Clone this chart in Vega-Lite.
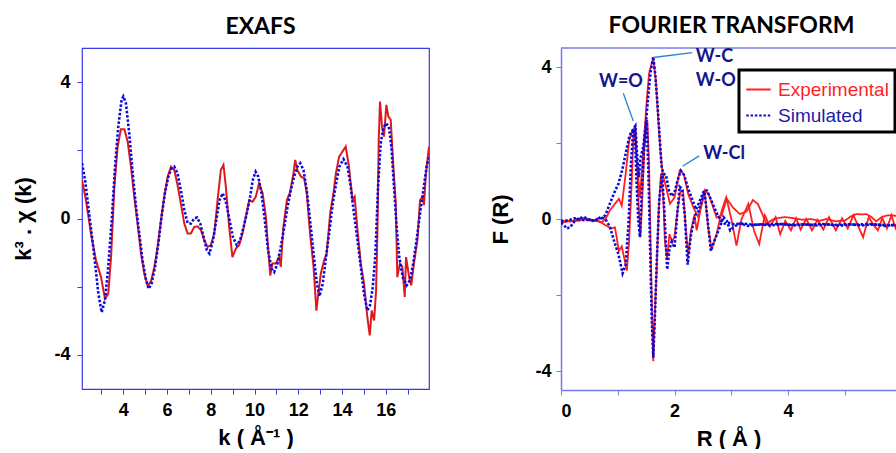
{
  "$schema": "https://vega.github.io/schema/vega-lite/v6.json",
  "background": "white",
  "padding": {"left": 12, "top": 15, "right": 0, "bottom": 0},
  "bounds": "flush",
  "spacing": 132,
  "config": {
    "view": {"stroke": null},
    "font": "Liberation Sans",
    "axis": {"grid": false, "labelFont": "Liberation Sans", "labelFontSize": 18, "labelFontWeight": "bold", "labelColor": "black", "titleFont": "Liberation Sans", "titleFontSize": 22, "titleFontWeight": "bold", "titleColor": "black"}
  },
  "resolve": {"scale": {"color": "independent", "strokeDash": "independent"}},
  "datasets": {
    "exafs": [
      {"k":2.112,"v":1.13,"s":"Experimental"},{"k":2.29,"v":0.54,"s":"Experimental"},{"k":2.52,"v":-0.44,"s":"Experimental"},{"k":2.75,"v":-1.23,"s":"Experimental"},{"k":2.98,"v":-1.72,"s":"Experimental"},{"k":3.16,"v":-2.35,"s":"Experimental"},{"k":3.31,"v":-2.21,"s":"Experimental"},{"k":3.44,"v":-1.13,"s":"Experimental"},{"k":3.59,"v":0.93,"s":"Experimental"},{"k":3.74,"v":2.11,"s":"Experimental"},{"k":3.89,"v":2.62,"s":"Experimental"},{"k":4.05,"v":2.62,"s":"Experimental"},{"k":4.20,"v":2.25,"s":"Experimental"},{"k":4.35,"v":1.52,"s":"Experimental"},{"k":4.50,"v":0.64,"s":"Experimental"},{"k":4.65,"v":-0.15,"s":"Experimental"},{"k":4.81,"v":-1.03,"s":"Experimental"},{"k":4.96,"v":-1.62,"s":"Experimental"},{"k":5.11,"v":-1.96,"s":"Experimental"},{"k":5.26,"v":-1.86,"s":"Experimental"},{"k":5.42,"v":-1.42,"s":"Experimental"},{"k":5.57,"v":-0.83,"s":"Experimental"},{"k":5.72,"v":-0.05,"s":"Experimental"},{"k":5.87,"v":0.64,"s":"Experimental"},{"k":6.03,"v":1.23,"s":"Experimental"},{"k":6.18,"v":1.52,"s":"Experimental"},{"k":6.33,"v":1.42,"s":"Experimental"},{"k":6.48,"v":0.98,"s":"Experimental"},{"k":6.63,"v":0.44,"s":"Experimental"},{"k":6.79,"v":-0.15,"s":"Experimental"},{"k":6.94,"v":-0.44,"s":"Experimental"},{"k":7.09,"v":-0.44,"s":"Experimental"},{"k":7.24,"v":-0.25,"s":"Experimental"},{"k":7.40,"v":-0.23,"s":"Experimental"},{"k":7.55,"v":-0.34,"s":"Experimental"},{"k":7.70,"v":-0.64,"s":"Experimental"},{"k":7.85,"v":-0.83,"s":"Experimental"},{"k":8.00,"v":-0.78,"s":"Experimental"},{"k":8.16,"v":-0.44,"s":"Experimental"},{"k":8.31,"v":0.54,"s":"Experimental"},{"k":8.46,"v":1.42,"s":"Experimental"},{"k":8.58,"v":1.57,"s":"Experimental"},{"k":8.69,"v":0.93,"s":"Experimental"},{"k":8.84,"v":-0.25,"s":"Experimental"},{"k":8.99,"v":-1.13,"s":"Experimental"},{"k":9.15,"v":-0.88,"s":"Experimental"},{"k":9.30,"v":-0.78,"s":"Experimental"},{"k":9.45,"v":-0.44,"s":"Experimental"},{"k":9.60,"v":0.05,"s":"Experimental"},{"k":9.76,"v":0.54,"s":"Experimental"},{"k":9.91,"v":0.49,"s":"Experimental"},{"k":10.06,"v":0.64,"s":"Experimental"},{"k":10.21,"v":1.03,"s":"Experimental"},{"k":10.37,"v":0.74,"s":"Experimental"},{"k":10.52,"v":0.05,"s":"Experimental"},{"k":10.64,"v":-1.03,"s":"Experimental"},{"k":10.72,"v":-1.67,"s":"Experimental"},{"k":10.82,"v":-1.32,"s":"Experimental"},{"k":10.97,"v":-1.32,"s":"Experimental"},{"k":11.13,"v":-1.13,"s":"Experimental"},{"k":11.20,"v":-1.42,"s":"Experimental"},{"k":11.32,"v":-0.25,"s":"Experimental"},{"k":11.48,"v":0.54,"s":"Experimental"},{"k":11.63,"v":0.78,"s":"Experimental"},{"k":11.78,"v":1.32,"s":"Experimental"},{"k":11.86,"v":1.72,"s":"Experimental"},{"k":11.96,"v":1.42,"s":"Experimental"},{"k":12.12,"v":1.23,"s":"Experimental"},{"k":12.27,"v":1.18,"s":"Experimental"},{"k":12.39,"v":0.74,"s":"Experimental"},{"k":12.54,"v":-0.44,"s":"Experimental"},{"k":12.70,"v":-1.42,"s":"Experimental"},{"k":12.83,"v":-2.70,"s":"Experimental"},{"k":12.91,"v":-2.25,"s":"Experimental"},{"k":13.03,"v":-1.62,"s":"Experimental"},{"k":13.18,"v":-1.23,"s":"Experimental"},{"k":13.30,"v":-1.03,"s":"Experimental"},{"k":13.46,"v":0.15,"s":"Experimental"},{"k":13.61,"v":0.74,"s":"Experimental"},{"k":13.72,"v":1.32,"s":"Experimental"},{"k":13.87,"v":1.81,"s":"Experimental"},{"k":14.02,"v":1.96,"s":"Experimental"},{"k":14.17,"v":2.11,"s":"Experimental"},{"k":14.32,"v":1.52,"s":"Experimental"},{"k":14.48,"v":0.54,"s":"Experimental"},{"k":14.58,"v":0.64,"s":"Experimental"},{"k":14.71,"v":-0.34,"s":"Experimental"},{"k":14.86,"v":-1.32,"s":"Experimental"},{"k":15.01,"v":-1.91,"s":"Experimental"},{"k":15.16,"v":-2.89,"s":"Experimental"},{"k":15.27,"v":-3.43,"s":"Experimental"},{"k":15.36,"v":-2.70,"s":"Experimental"},{"k":15.47,"v":-2.99,"s":"Experimental"},{"k":15.56,"v":-2.11,"s":"Experimental"},{"k":15.62,"v":-0.44,"s":"Experimental"},{"k":15.68,"v":2.30,"s":"Experimental"},{"k":15.74,"v":3.43,"s":"Experimental"},{"k":15.83,"v":2.70,"s":"Experimental"},{"k":15.92,"v":2.40,"s":"Experimental"},{"k":16.03,"v":3.33,"s":"Experimental"},{"k":16.12,"v":2.99,"s":"Experimental"},{"k":16.23,"v":2.89,"s":"Experimental"},{"k":16.35,"v":1.52,"s":"Experimental"},{"k":16.46,"v":0.44,"s":"Experimental"},{"k":16.53,"v":-1.72,"s":"Experimental"},{"k":16.65,"v":-1.32,"s":"Experimental"},{"k":16.76,"v":-1.42,"s":"Experimental"},{"k":16.87,"v":-2.30,"s":"Experimental"},{"k":16.93,"v":-1.13,"s":"Experimental"},{"k":17.07,"v":-1.72,"s":"Experimental"},{"k":17.17,"v":-1.96,"s":"Experimental"},{"k":17.29,"v":-1.32,"s":"Experimental"},{"k":17.45,"v":-0.64,"s":"Experimental"},{"k":17.57,"v":0.54,"s":"Experimental"},{"k":17.69,"v":0.64,"s":"Experimental"},{"k":17.75,"v":0.39,"s":"Experimental"},{"k":17.84,"v":1.32,"s":"Experimental"},{"k":17.98,"v":2.11,"s":"Experimental"},
      {"k":2.112,"v":1.62,"s":"Simulated"},{"k":2.25,"v":1.13,"s":"Simulated"},{"k":2.40,"v":0.34,"s":"Simulated"},{"k":2.55,"v":-0.44,"s":"Simulated"},{"k":2.71,"v":-1.32,"s":"Simulated"},{"k":2.86,"v":-2.21,"s":"Simulated"},{"k":3.01,"v":-2.75,"s":"Simulated"},{"k":3.16,"v":-2.40,"s":"Simulated"},{"k":3.31,"v":-1.42,"s":"Simulated"},{"k":3.47,"v":-0.05,"s":"Simulated"},{"k":3.62,"v":1.52,"s":"Simulated"},{"k":3.77,"v":2.70,"s":"Simulated"},{"k":3.92,"v":3.48,"s":"Simulated"},{"k":4.00,"v":3.58,"s":"Simulated"},{"k":4.12,"v":3.38,"s":"Simulated"},{"k":4.27,"v":2.50,"s":"Simulated"},{"k":4.43,"v":1.32,"s":"Simulated"},{"k":4.58,"v":0.34,"s":"Simulated"},{"k":4.73,"v":-0.44,"s":"Simulated"},{"k":4.88,"v":-1.23,"s":"Simulated"},{"k":5.04,"v":-1.81,"s":"Simulated"},{"k":5.16,"v":-2.06,"s":"Simulated"},{"k":5.29,"v":-1.91,"s":"Simulated"},{"k":5.45,"v":-1.42,"s":"Simulated"},{"k":5.60,"v":-0.74,"s":"Simulated"},{"k":5.75,"v":0.05,"s":"Simulated"},{"k":5.90,"v":0.74,"s":"Simulated"},{"k":6.06,"v":1.23,"s":"Simulated"},{"k":6.21,"v":1.47,"s":"Simulated"},{"k":6.33,"v":1.52,"s":"Simulated"},{"k":6.48,"v":1.32,"s":"Simulated"},{"k":6.63,"v":0.83,"s":"Simulated"},{"k":6.79,"v":0.25,"s":"Simulated"},{"k":6.94,"v":-0.13,"s":"Simulated"},{"k":7.09,"v":-0.15,"s":"Simulated"},{"k":7.24,"v":0.0,"s":"Simulated"},{"k":7.37,"v":0.03,"s":"Simulated"},{"k":7.52,"v":-0.15,"s":"Simulated"},{"k":7.67,"v":-0.54,"s":"Simulated"},{"k":7.82,"v":-0.93,"s":"Simulated"},{"k":7.94,"v":-1.03,"s":"Simulated"},{"k":8.10,"v":-0.64,"s":"Simulated"},{"k":8.25,"v":-0.05,"s":"Simulated"},{"k":8.40,"v":0.54,"s":"Simulated"},{"k":8.55,"v":0.74,"s":"Simulated"},{"k":8.71,"v":0.44,"s":"Simulated"},{"k":8.86,"v":-0.05,"s":"Simulated"},{"k":9.01,"v":-0.54,"s":"Simulated"},{"k":9.19,"v":-0.78,"s":"Simulated"},{"k":9.34,"v":-0.64,"s":"Simulated"},{"k":9.50,"v":-0.25,"s":"Simulated"},{"k":9.65,"v":0.15,"s":"Simulated"},{"k":9.80,"v":0.64,"s":"Simulated"},{"k":9.92,"v":1.13,"s":"Simulated"},{"k":10.05,"v":1.37,"s":"Simulated"},{"k":10.17,"v":1.23,"s":"Simulated"},{"k":10.32,"v":0.74,"s":"Simulated"},{"k":10.47,"v":-0.05,"s":"Simulated"},{"k":10.62,"v":-0.93,"s":"Simulated"},{"k":10.78,"v":-1.47,"s":"Simulated"},{"k":10.90,"v":-1.57,"s":"Simulated"},{"k":11.05,"v":-1.32,"s":"Simulated"},{"k":11.20,"v":-0.83,"s":"Simulated"},{"k":11.36,"v":-0.25,"s":"Simulated"},{"k":11.51,"v":0.34,"s":"Simulated"},{"k":11.66,"v":0.83,"s":"Simulated"},{"k":11.81,"v":1.23,"s":"Simulated"},{"k":11.96,"v":1.52,"s":"Simulated"},{"k":12.09,"v":1.62,"s":"Simulated"},{"k":12.24,"v":1.42,"s":"Simulated"},{"k":12.39,"v":0.83,"s":"Simulated"},{"k":12.54,"v":-0.05,"s":"Simulated"},{"k":12.70,"v":-1.03,"s":"Simulated"},{"k":12.85,"v":-1.91,"s":"Simulated"},{"k":12.97,"v":-2.28,"s":"Simulated"},{"k":13.12,"v":-1.91,"s":"Simulated"},{"k":13.27,"v":-1.13,"s":"Simulated"},{"k":13.43,"v":-0.34,"s":"Simulated"},{"k":13.58,"v":0.44,"s":"Simulated"},{"k":13.73,"v":1.03,"s":"Simulated"},{"k":13.88,"v":1.52,"s":"Simulated"},{"k":14.07,"v":1.74,"s":"Simulated"},{"k":14.25,"v":1.52,"s":"Simulated"},{"k":14.40,"v":0.93,"s":"Simulated"},{"k":14.55,"v":0.15,"s":"Simulated"},{"k":14.71,"v":-0.64,"s":"Simulated"},{"k":14.86,"v":-1.42,"s":"Simulated"},{"k":15.01,"v":-2.21,"s":"Simulated"},{"k":15.16,"v":-2.70,"s":"Simulated"},{"k":15.28,"v":-2.55,"s":"Simulated"},{"k":15.41,"v":-2.01,"s":"Simulated"},{"k":15.53,"v":-1.03,"s":"Simulated"},{"k":15.65,"v":0.93,"s":"Simulated"},{"k":15.77,"v":2.21,"s":"Simulated"},{"k":15.89,"v":2.65,"s":"Simulated"},{"k":16.01,"v":2.79,"s":"Simulated"},{"k":16.14,"v":2.70,"s":"Simulated"},{"k":16.26,"v":2.11,"s":"Simulated"},{"k":16.38,"v":0.93,"s":"Simulated"},{"k":16.50,"v":-0.25,"s":"Simulated"},{"k":16.62,"v":-1.13,"s":"Simulated"},{"k":16.78,"v":-1.72,"s":"Simulated"},{"k":16.96,"v":-1.96,"s":"Simulated"},{"k":17.11,"v":-1.81,"s":"Simulated"},{"k":17.26,"v":-1.32,"s":"Simulated"},{"k":17.41,"v":-0.64,"s":"Simulated"},{"k":17.57,"v":0.15,"s":"Simulated"},{"k":17.72,"v":0.83,"s":"Simulated"},{"k":17.87,"v":1.52,"s":"Simulated"},{"k":17.98,"v":1.81,"s":"Simulated"}
    ],
    "ft": [
      {"r":0.00,"f":-0.05,"s":"Experimental","p":"a"},{"r":0.08,"f":-0.08,"s":"Experimental","p":"a"},{"r":0.16,"f":-0.04,"s":"Experimental","p":"a"},{"r":0.24,"f":-0.06,"s":"Experimental","p":"a"},{"r":0.32,"f":-0.02,"s":"Experimental","p":"a"},{"r":0.40,"f":0.03,"s":"Experimental","p":"a"},{"r":0.48,"f":-0.01,"s":"Experimental","p":"a"},{"r":0.56,"f":-0.03,"s":"Experimental","p":"a"},{"r":0.64,"f":-0.04,"s":"Experimental","p":"a"},{"r":0.72,"f":-0.09,"s":"Experimental","p":"a"},{"r":0.79,"f":0.02,"s":"Experimental","p":"a"},{"r":0.86,"f":0.22,"s":"Experimental","p":"a"},{"r":0.95,"f":0.40,"s":"Experimental","p":"a"},{"r":1.02,"f":0.53,"s":"Experimental","p":"a"},{"r":1.07,"f":0.35,"s":"Experimental","p":"a"},{"r":1.14,"f":1.20,"s":"Experimental","p":"a"},{"r":1.20,"f":2.06,"s":"Experimental","p":"a"},{"r":1.25,"f":2.30,"s":"Experimental","p":"a"},{"r":1.29,"f":2.38,"s":"Experimental","p":"a"},{"r":1.33,"f":1.63,"s":"Experimental","p":"a"},{"r":1.39,"f":0.57,"s":"Experimental","p":"a"},{"r":1.45,"f":1.80,"s":"Experimental","p":"a"},{"r":1.51,"f":3.12,"s":"Experimental","p":"a"},{"r":1.55,"f":3.82,"s":"Experimental","p":"a"},{"r":1.58,"f":4.00,"s":"Experimental","p":"a"},{"r":1.625,"f":4.22,"s":"Experimental","p":"a"},{"r":1.67,"f":3.65,"s":"Experimental","p":"a"},{"r":1.71,"f":2.68,"s":"Experimental","p":"a"},{"r":1.75,"f":1.80,"s":"Experimental","p":"a"},{"r":1.79,"f":1.19,"s":"Experimental","p":"a"},{"r":1.85,"f":0.84,"s":"Experimental","p":"a"},{"r":1.92,"f":0.40,"s":"Experimental","p":"a"},{"r":2.00,"f":0.57,"s":"Experimental","p":"a"},{"r":2.09,"f":1.27,"s":"Experimental","p":"a"},{"r":2.16,"f":1.19,"s":"Experimental","p":"a"},{"r":2.24,"f":0.66,"s":"Experimental","p":"a"},{"r":2.33,"f":0.31,"s":"Experimental","p":"a"},{"r":2.42,"f":0.04,"s":"Experimental","p":"a"},{"r":2.53,"f":0.76,"s":"Experimental","p":"a"},{"r":2.60,"f":0.66,"s":"Experimental","p":"a"},{"r":2.74,"f":0.04,"s":"Experimental","p":"a"},{"r":2.83,"f":0.10,"s":"Experimental","p":"a"},{"r":2.92,"f":0.53,"s":"Experimental","p":"a"},{"r":3.03,"f":0.30,"s":"Experimental","p":"a"},{"r":3.15,"f":0.13,"s":"Experimental","p":"a"},{"r":3.27,"f":0.20,"s":"Experimental","p":"a"},{"r":3.38,"f":0.50,"s":"Experimental","p":"a"},{"r":3.47,"f":0.39,"s":"Experimental","p":"a"},{"r":3.62,"f":-0.13,"s":"Experimental","p":"a"},{"r":3.72,"f":-0.02,"s":"Experimental","p":"a"},{"r":3.80,"f":0.02,"s":"Experimental","p":"a"},{"r":3.95,"f":0.05,"s":"Experimental","p":"a"},{"r":4.10,"f":0.02,"s":"Experimental","p":"a"},{"r":4.26,"f":-0.02,"s":"Experimental","p":"a"},{"r":4.40,"f":0.00,"s":"Experimental","p":"a"},{"r":4.55,"f":-0.05,"s":"Experimental","p":"a"},{"r":4.68,"f":0.00,"s":"Experimental","p":"a"},{"r":4.84,"f":-0.06,"s":"Experimental","p":"a"},{"r":5.00,"f":-0.04,"s":"Experimental","p":"a"},{"r":5.12,"f":0.08,"s":"Experimental","p":"a"},{"r":5.20,"f":0.13,"s":"Experimental","p":"a"},{"r":5.30,"f":0.12,"s":"Experimental","p":"a"},{"r":5.38,"f":0.13,"s":"Experimental","p":"a"},{"r":5.47,"f":0.05,"s":"Experimental","p":"a"},{"r":5.55,"f":-0.06,"s":"Experimental","p":"a"},{"r":5.65,"f":0.05,"s":"Experimental","p":"a"},{"r":5.73,"f":0.09,"s":"Experimental","p":"a"},{"r":5.82,"f":0.10,"s":"Experimental","p":"a"},{"r":5.90,"f":0.08,"s":"Experimental","p":"a"},
      {"r":0.00,"f":-0.10,"s":"Experimental","p":"b"},{"r":0.08,"f":-0.04,"s":"Experimental","p":"b"},{"r":0.16,"f":-0.07,"s":"Experimental","p":"b"},{"r":0.24,"f":-0.03,"s":"Experimental","p":"b"},{"r":0.32,"f":-0.05,"s":"Experimental","p":"b"},{"r":0.40,"f":0.00,"s":"Experimental","p":"b"},{"r":0.48,"f":-0.04,"s":"Experimental","p":"b"},{"r":0.56,"f":-0.02,"s":"Experimental","p":"b"},{"r":0.64,"f":-0.06,"s":"Experimental","p":"b"},{"r":0.72,"f":-0.10,"s":"Experimental","p":"b"},{"r":0.80,"f":-0.18,"s":"Experimental","p":"b"},{"r":0.88,"f":-0.25,"s":"Experimental","p":"b"},{"r":0.95,"f":-0.22,"s":"Experimental","p":"b"},{"r":1.02,"f":-0.84,"s":"Experimental","p":"b"},{"r":1.07,"f":-0.72,"s":"Experimental","p":"b"},{"r":1.16,"f":-1.36,"s":"Experimental","p":"b"},{"r":1.20,"f":-0.57,"s":"Experimental","p":"b"},{"r":1.24,"f":0.80,"s":"Experimental","p":"b"},{"r":1.28,"f":2.30,"s":"Experimental","p":"b"},{"r":1.31,"f":2.45,"s":"Experimental","p":"b"},{"r":1.34,"f":1.40,"s":"Experimental","p":"b"},{"r":1.37,"f":0.30,"s":"Experimental","p":"b"},{"r":1.40,"f":-0.45,"s":"Experimental","p":"b"},{"r":1.43,"f":0.50,"s":"Experimental","p":"b"},{"r":1.47,"f":1.90,"s":"Experimental","p":"b"},{"r":1.52,"f":2.60,"s":"Experimental","p":"b"},{"r":1.55,"f":1.50,"s":"Experimental","p":"b"},{"r":1.58,"f":-0.80,"s":"Experimental","p":"b"},{"r":1.61,"f":-2.90,"s":"Experimental","p":"b"},{"r":1.625,"f":-3.74,"s":"Experimental","p":"b"},{"r":1.65,"f":-2.60,"s":"Experimental","p":"b"},{"r":1.68,"f":-1.50,"s":"Experimental","p":"b"},{"r":1.72,"f":0.20,"s":"Experimental","p":"b"},{"r":1.76,"f":1.19,"s":"Experimental","p":"b"},{"r":1.80,"f":0.60,"s":"Experimental","p":"b"},{"r":1.83,"f":-0.60,"s":"Experimental","p":"b"},{"r":1.87,"f":-1.05,"s":"Experimental","p":"b"},{"r":1.91,"f":-0.40,"s":"Experimental","p":"b"},{"r":1.96,"f":-0.60,"s":"Experimental","p":"b"},{"r":2.00,"f":-0.45,"s":"Experimental","p":"b"},{"r":2.05,"f":0.20,"s":"Experimental","p":"b"},{"r":2.10,"f":0.70,"s":"Experimental","p":"b"},{"r":2.15,"f":0.75,"s":"Experimental","p":"b"},{"r":2.20,"f":-0.30,"s":"Experimental","p":"b"},{"r":2.24,"f":-0.95,"s":"Experimental","p":"b"},{"r":2.29,"f":-0.30,"s":"Experimental","p":"b"},{"r":2.35,"f":0.10,"s":"Experimental","p":"b"},{"r":2.39,"f":-0.30,"s":"Experimental","p":"b"},{"r":2.45,"f":0.20,"s":"Experimental","p":"b"},{"r":2.53,"f":0.70,"s":"Experimental","p":"b"},{"r":2.59,"f":-0.20,"s":"Experimental","p":"b"},{"r":2.65,"f":-0.79,"s":"Experimental","p":"b"},{"r":2.74,"f":-0.40,"s":"Experimental","p":"b"},{"r":2.83,"f":0.22,"s":"Experimental","p":"b"},{"r":2.91,"f":0.57,"s":"Experimental","p":"b"},{"r":3.00,"f":0.00,"s":"Experimental","p":"b"},{"r":3.09,"f":-0.70,"s":"Experimental","p":"b"},{"r":3.18,"f":0.00,"s":"Experimental","p":"b"},{"r":3.30,"f":0.40,"s":"Experimental","p":"b"},{"r":3.40,"f":-0.31,"s":"Experimental","p":"b"},{"r":3.49,"f":-0.66,"s":"Experimental","p":"b"},{"r":3.59,"f":0.10,"s":"Experimental","p":"b"},{"r":3.68,"f":-0.20,"s":"Experimental","p":"b"},{"r":3.78,"f":0.05,"s":"Experimental","p":"b"},{"r":3.86,"f":-0.40,"s":"Experimental","p":"b"},{"r":3.95,"f":-0.05,"s":"Experimental","p":"b"},{"r":4.05,"f":-0.30,"s":"Experimental","p":"b"},{"r":4.14,"f":0.02,"s":"Experimental","p":"b"},{"r":4.22,"f":-0.28,"s":"Experimental","p":"b"},{"r":4.32,"f":0.00,"s":"Experimental","p":"b"},{"r":4.42,"f":-0.30,"s":"Experimental","p":"b"},{"r":4.52,"f":-0.02,"s":"Experimental","p":"b"},{"r":4.62,"f":-0.28,"s":"Experimental","p":"b"},{"r":4.72,"f":0.05,"s":"Experimental","p":"b"},{"r":4.84,"f":-0.30,"s":"Experimental","p":"b"},{"r":4.95,"f":0.02,"s":"Experimental","p":"b"},{"r":5.05,"f":-0.25,"s":"Experimental","p":"b"},{"r":5.15,"f":0.10,"s":"Experimental","p":"b"},{"r":5.32,"f":-0.48,"s":"Experimental","p":"b"},{"r":5.42,"f":0.05,"s":"Experimental","p":"b"},{"r":5.50,"f":-0.15,"s":"Experimental","p":"b"},{"r":5.58,"f":-0.30,"s":"Experimental","p":"b"},{"r":5.66,"f":0.02,"s":"Experimental","p":"b"},{"r":5.74,"f":-0.25,"s":"Experimental","p":"b"},{"r":5.82,"f":0.10,"s":"Experimental","p":"b"},{"r":5.90,"f":-0.28,"s":"Experimental","p":"b"},
      {"r":0.00,"f":-0.10,"s":"Simulated","p":"a"},{"r":0.05,"f":-0.15,"s":"Simulated","p":"a"},{"r":0.10,"f":-0.25,"s":"Simulated","p":"a"},{"r":0.16,"f":-0.22,"s":"Simulated","p":"a"},{"r":0.24,"f":-0.05,"s":"Simulated","p":"a"},{"r":0.32,"f":0.02,"s":"Simulated","p":"a"},{"r":0.40,"f":0.05,"s":"Simulated","p":"a"},{"r":0.48,"f":0.00,"s":"Simulated","p":"a"},{"r":0.56,"f":-0.05,"s":"Simulated","p":"a"},{"r":0.64,"f":0.00,"s":"Simulated","p":"a"},{"r":0.72,"f":0.02,"s":"Simulated","p":"a"},{"r":0.78,"f":0.10,"s":"Simulated","p":"a"},{"r":0.86,"f":0.40,"s":"Simulated","p":"a"},{"r":0.94,"f":0.70,"s":"Simulated","p":"a"},{"r":1.01,"f":0.92,"s":"Simulated","p":"a"},{"r":1.08,"f":1.30,"s":"Simulated","p":"a"},{"r":1.15,"f":1.80,"s":"Simulated","p":"a"},{"r":1.21,"f":2.20,"s":"Simulated","p":"a"},{"r":1.27,"f":2.36,"s":"Simulated","p":"a"},{"r":1.31,"f":2.45,"s":"Simulated","p":"a"},{"r":1.34,"f":1.70,"s":"Simulated","p":"a"},{"r":1.37,"f":1.10,"s":"Simulated","p":"a"},{"r":1.40,"f":1.60,"s":"Simulated","p":"a"},{"r":1.45,"f":1.90,"s":"Simulated","p":"a"},{"r":1.50,"f":2.60,"s":"Simulated","p":"a"},{"r":1.54,"f":3.30,"s":"Simulated","p":"a"},{"r":1.58,"f":3.90,"s":"Simulated","p":"a"},{"r":1.625,"f":4.27,"s":"Simulated","p":"a"},{"r":1.66,"f":3.80,"s":"Simulated","p":"a"},{"r":1.70,"f":3.00,"s":"Simulated","p":"a"},{"r":1.74,"f":2.10,"s":"Simulated","p":"a"},{"r":1.77,"f":1.40,"s":"Simulated","p":"a"},{"r":1.80,"f":1.20,"s":"Simulated","p":"a"},{"r":1.85,"f":1.15,"s":"Simulated","p":"a"},{"r":1.90,"f":0.75,"s":"Simulated","p":"a"},{"r":1.95,"f":0.60,"s":"Simulated","p":"a"},{"r":2.00,"f":0.70,"s":"Simulated","p":"a"},{"r":2.05,"f":1.00,"s":"Simulated","p":"a"},{"r":2.11,"f":1.27,"s":"Simulated","p":"a"},{"r":2.17,"f":1.15,"s":"Simulated","p":"a"},{"r":2.24,"f":0.80,"s":"Simulated","p":"a"},{"r":2.30,"f":0.55,"s":"Simulated","p":"a"},{"r":2.38,"f":0.25,"s":"Simulated","p":"a"},{"r":2.45,"f":0.50,"s":"Simulated","p":"a"},{"r":2.52,"f":0.75,"s":"Simulated","p":"a"},{"r":2.57,"f":0.75,"s":"Simulated","p":"a"},{"r":2.63,"f":0.55,"s":"Simulated","p":"a"},{"r":2.70,"f":0.30,"s":"Simulated","p":"a"},{"r":2.76,"f":0.10,"s":"Simulated","p":"a"},{"r":2.82,"f":-0.05,"s":"Simulated","p":"a"},{"r":2.88,"f":-0.12,"s":"Simulated","p":"a"},{"r":2.95,"f":-0.10,"s":"Simulated","p":"a"},{"r":3.05,"f":-0.14,"s":"Simulated","p":"a"},{"r":3.20,"f":-0.12,"s":"Simulated","p":"a"},{"r":3.40,"f":-0.15,"s":"Simulated","p":"a"},{"r":3.60,"f":-0.14,"s":"Simulated","p":"a"},{"r":3.80,"f":-0.13,"s":"Simulated","p":"a"},{"r":4.00,"f":-0.15,"s":"Simulated","p":"a"},{"r":4.20,"f":-0.14,"s":"Simulated","p":"a"},{"r":4.40,"f":-0.15,"s":"Simulated","p":"a"},{"r":4.60,"f":-0.13,"s":"Simulated","p":"a"},{"r":4.80,"f":-0.16,"s":"Simulated","p":"a"},{"r":5.00,"f":-0.14,"s":"Simulated","p":"a"},{"r":5.20,"f":-0.15,"s":"Simulated","p":"a"},{"r":5.40,"f":-0.13,"s":"Simulated","p":"a"},{"r":5.60,"f":-0.15,"s":"Simulated","p":"a"},{"r":5.80,"f":-0.16,"s":"Simulated","p":"a"},{"r":5.90,"f":-0.17,"s":"Simulated","p":"a"},
      {"r":0.00,"f":-0.05,"s":"Simulated","p":"b"},{"r":0.08,"f":-0.05,"s":"Simulated","p":"b"},{"r":0.16,"f":-0.02,"s":"Simulated","p":"b"},{"r":0.24,"f":0.02,"s":"Simulated","p":"b"},{"r":0.32,"f":0.00,"s":"Simulated","p":"b"},{"r":0.40,"f":-0.03,"s":"Simulated","p":"b"},{"r":0.48,"f":-0.02,"s":"Simulated","p":"b"},{"r":0.56,"f":-0.04,"s":"Simulated","p":"b"},{"r":0.64,"f":-0.02,"s":"Simulated","p":"b"},{"r":0.70,"f":0.06,"s":"Simulated","p":"b"},{"r":0.78,"f":0.00,"s":"Simulated","p":"b"},{"r":0.86,"f":-0.20,"s":"Simulated","p":"b"},{"r":0.94,"f":-0.60,"s":"Simulated","p":"b"},{"r":1.01,"f":-0.92,"s":"Simulated","p":"b"},{"r":1.085,"f":-1.43,"s":"Simulated","p":"b"},{"r":1.14,"f":-1.20,"s":"Simulated","p":"b"},{"r":1.19,"f":-0.10,"s":"Simulated","p":"b"},{"r":1.23,"f":1.40,"s":"Simulated","p":"b"},{"r":1.27,"f":2.30,"s":"Simulated","p":"b"},{"r":1.30,"f":2.35,"s":"Simulated","p":"b"},{"r":1.33,"f":1.00,"s":"Simulated","p":"b"},{"r":1.36,"f":0.00,"s":"Simulated","p":"b"},{"r":1.39,"f":-0.48,"s":"Simulated","p":"b"},{"r":1.42,"f":0.60,"s":"Simulated","p":"b"},{"r":1.46,"f":1.80,"s":"Simulated","p":"b"},{"r":1.51,"f":2.60,"s":"Simulated","p":"b"},{"r":1.54,"f":1.20,"s":"Simulated","p":"b"},{"r":1.57,"f":-0.80,"s":"Simulated","p":"b"},{"r":1.60,"f":-2.70,"s":"Simulated","p":"b"},{"r":1.625,"f":-3.65,"s":"Simulated","p":"b"},{"r":1.65,"f":-2.70,"s":"Simulated","p":"b"},{"r":1.69,"f":-1.00,"s":"Simulated","p":"b"},{"r":1.73,"f":0.50,"s":"Simulated","p":"b"},{"r":1.78,"f":1.20,"s":"Simulated","p":"b"},{"r":1.82,"f":0.20,"s":"Simulated","p":"b"},{"r":1.87,"f":-1.33,"s":"Simulated","p":"b"},{"r":1.91,"f":-0.80,"s":"Simulated","p":"b"},{"r":1.95,"f":-0.60,"s":"Simulated","p":"b"},{"r":2.00,"f":-0.75,"s":"Simulated","p":"b"},{"r":2.04,"f":0.00,"s":"Simulated","p":"b"},{"r":2.09,"f":0.85,"s":"Simulated","p":"b"},{"r":2.13,"f":0.80,"s":"Simulated","p":"b"},{"r":2.18,"f":0.10,"s":"Simulated","p":"b"},{"r":2.23,"f":-1.20,"s":"Simulated","p":"b"},{"r":2.29,"f":-0.40,"s":"Simulated","p":"b"},{"r":2.36,"f":0.10,"s":"Simulated","p":"b"},{"r":2.42,"f":0.20,"s":"Simulated","p":"b"},{"r":2.48,"f":0.50,"s":"Simulated","p":"b"},{"r":2.53,"f":0.70,"s":"Simulated","p":"b"},{"r":2.58,"f":0.00,"s":"Simulated","p":"b"},{"r":2.64,"f":-0.84,"s":"Simulated","p":"b"},{"r":2.72,"f":-0.50,"s":"Simulated","p":"b"},{"r":2.80,"f":-0.20,"s":"Simulated","p":"b"},{"r":2.86,"f":0.05,"s":"Simulated","p":"b"},{"r":2.92,"f":-0.05,"s":"Simulated","p":"b"},{"r":2.98,"f":-0.30,"s":"Simulated","p":"b"},{"r":3.05,"f":-0.20,"s":"Simulated","p":"b"},{"r":3.15,"f":-0.12,"s":"Simulated","p":"b"},{"r":3.30,"f":-0.18,"s":"Simulated","p":"b"},{"r":3.50,"f":-0.14,"s":"Simulated","p":"b"},{"r":3.70,"f":-0.17,"s":"Simulated","p":"b"},{"r":3.90,"f":-0.13,"s":"Simulated","p":"b"},{"r":4.10,"f":-0.17,"s":"Simulated","p":"b"},{"r":4.30,"f":-0.14,"s":"Simulated","p":"b"},{"r":4.50,"f":-0.17,"s":"Simulated","p":"b"},{"r":4.70,"f":-0.14,"s":"Simulated","p":"b"},{"r":4.90,"f":-0.18,"s":"Simulated","p":"b"},{"r":5.10,"f":-0.14,"s":"Simulated","p":"b"},{"r":5.30,"f":-0.17,"s":"Simulated","p":"b"},{"r":5.50,"f":-0.14,"s":"Simulated","p":"b"},{"r":5.70,"f":-0.18,"s":"Simulated","p":"b"},{"r":5.90,"f":-0.15,"s":"Simulated","p":"b"}
    ],
    "peaks": [
      {"r":0.669,"f":3.60,"t":"W=O"},{"r":2.375,"f":4.26,"t":"W-C"},{"r":2.375,"f":3.63,"t":"W-O"},{"r":2.504,"f":1.71,"t":"W-Cl"}
    ],
    "leaders": [
      {"r1":1.097,"f1":3.31,"r2":1.273,"f2":2.58},{"r1":1.625,"f1":4.25,"r2":2.311,"f2":4.38},{"r1":2.141,"f1":1.39,"r2":2.434,"f2":1.66}
    ]
  },
  "hconcat": [
    {
      "width": 347,
      "height": 341,
      "view": {"stroke": "#3a3ae6", "strokeWidth": 1.2},
      "title": {"text": "EXAFS", "font": "Lato", "fontSize": 23, "fontWeight": "bold", "color": "black", "anchor": "middle", "frame": "group", "offset": 9, "dx": 5},
      "data": {"name": "exafs"},
      "encoding": {
        "x": {"field": "k", "type": "quantitative", "scale": {"domain": [2.11, 17.98], "nice": false, "zero": false},
          "axis": {"title": "k ( Å⁻¹ )", "values": [3,4,5,6,7,8,9,10,11,12,13,14,15,16,17], "labelExpr": "datum.value % 2 === 0 ? '' + datum.value : ''", "tickSize": 5, "tickColor": "#3a3ae6", "domain": false, "labelPadding": 7, "titlePadding": 8}},
        "y": {"field": "v", "type": "quantitative", "scale": {"domain": [-5, 5], "nice": false},
          "axis": {"title": "k³ . χ (k)", "values": [-4,-2,0,2,4], "labelExpr": "datum.value % 4 === 0 ? '' + datum.value : ''", "tickSize": 5, "tickColor": "#3a3ae6", "domain": false, "labelPadding": 7, "titlePadding": 18}},
        "color": {"field": "s", "type": "nominal", "scale": {"domain": ["Experimental", "Simulated"], "range": ["#dc1a1e", "#0b0be0"]}, "legend": null},
        "strokeDash": {"field": "s", "type": "nominal", "scale": {"domain": ["Experimental", "Simulated"], "range": [[1, 0], [2.5, 1.8]]}, "legend": null}
      },
      "layer": [
        {"transform": [{"filter": "datum.s === 'Experimental'"}], "mark": {"type": "line", "strokeWidth": 2, "clip": true}},
        {"transform": [{"filter": "datum.s === 'Simulated'"}], "mark": {"type": "line", "strokeWidth": 2.6, "clip": true}}
      ]
    },
    {
      "width": 335,
      "height": 342,
      "title": {"text": "FOURIER TRANSFORM", "font": "Lato", "fontSize": 23, "fontWeight": "bold", "color": "black", "anchor": "middle", "frame": "group", "offset": 9, "dx": 3},
      "layer": [
        {
          "data": {"name": "ft"},
          "transform": [{"filter": "datum.s === 'Experimental'"}],
          "mark": {"type": "line", "strokeWidth": 1.8, "clip": true},
          "encoding": {
            "x": {"field": "r", "type": "quantitative", "scale": {"domain": [0, 5.9], "nice": false, "zero": false},
              "axis": {"title": "R ( Å )", "values": [0,1,2,3,4,5], "labelExpr": "datum.value % 2 === 0 ? '' + datum.value : ''", "tickSize": 5, "tickColor": "#7878ea", "domainColor": "#7878ea", "domainWidth": 1.5, "labelPadding": 7, "titlePadding": 8}},
            "y": {"field": "f", "type": "quantitative", "scale": {"domain": [-4.5, 4.5], "nice": false},
              "axis": {"title": "F (R)", "values": [-4,-2,0,2,4], "labelExpr": "datum.value % 4 === 0 ? '' + datum.value : ''", "tickSize": 5, "tickColor": "#7878ea", "domainColor": "#7878ea", "domainWidth": 1.5, "labelPadding": 5, "titlePadding": 22}},
            "detail": {"field": "p"},
            "color": {"field": "s", "type": "nominal", "scale": {"domain": ["Experimental", "Simulated"], "range": ["#ff1f1f", "#0b0bd8"]},
              "legend": {"title": null, "orient": "none", "legendX": 178, "legendY": 22, "direction": "vertical", "strokeColor": "black", "fillColor": "white", "padding": 6, "labelFont": "Liberation Sans", "labelFontSize": 19, "labelFontWeight": "normal", "labelOffset": 6, "symbolType": "stroke", "symbolSize": 600, "symbolStrokeWidth": 2.2, "rowPadding": 2,
                "encode": {
                  "legend": {"update": {"strokeWidth": {"value": 3}}},
                  "labels": {"update": {"fill": [{"test": "datum.value === 'Experimental'", "value": "#ff1f1f"}, {"value": "#1c1ca6"}]}}
                }}},
            "strokeDash": {"field": "s", "type": "nominal", "scale": {"domain": ["Experimental", "Simulated"], "range": [[1, 0], [2.5, 1.8]]}}
          }
        },
        {
          "data": {"name": "ft"},
          "transform": [{"filter": "datum.s === 'Simulated'"}],
          "mark": {"type": "line", "strokeWidth": 2.6, "clip": true},
          "encoding": {
            "x": {"field": "r", "type": "quantitative"},
            "y": {"field": "f", "type": "quantitative"},
            "detail": {"field": "p"},
            "color": {"field": "s", "type": "nominal"},
            "strokeDash": {"field": "s", "type": "nominal"}
          }
        },
        {
          "data": {"values": [{}]},
          "mark": {"type": "rule", "color": "#7878ea", "strokeWidth": 1.5},
          "encoding": {"y": {"datum": 4.5, "type": "quantitative"}}
        },
        {
          "data": {"name": "leaders"},
          "mark": {"type": "rule", "color": "#2a86c6", "strokeWidth": 1.3},
          "encoding": {
            "x": {"field": "r1", "type": "quantitative"},
            "y": {"field": "f1", "type": "quantitative"},
            "x2": {"field": "r2"},
            "y2": {"field": "f2"}
          }
        },
        {
          "data": {"name": "peaks"},
          "mark": {"type": "text", "font": "Lato", "fontSize": 18, "fontWeight": "bold", "color": "#14148c", "align": "left", "baseline": "middle"},
          "encoding": {
            "x": {"field": "r", "type": "quantitative"},
            "y": {"field": "f", "type": "quantitative"},
            "text": {"field": "t"}
          }
        }
      ]
    }
  ]
}
